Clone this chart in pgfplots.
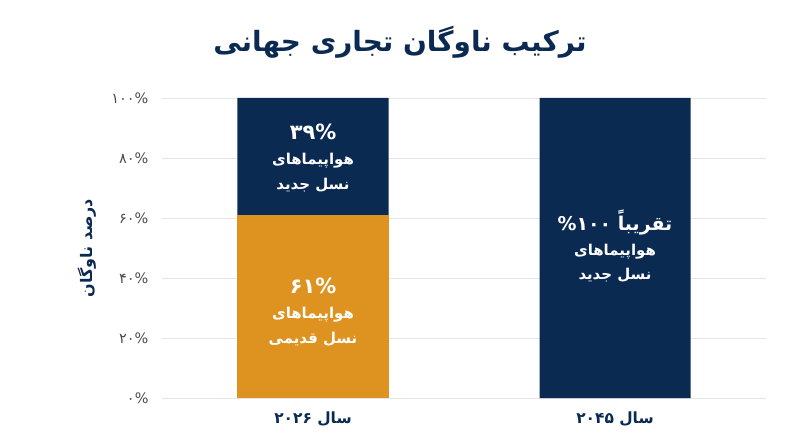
\documentclass[border=0pt]{standalone}
\usepackage{fontspec}
\usepackage{pgfplots}
\pgfplotsset{compat=1.18}
\TeXXeTstate=1
\newfontfamily\arabicfont[Script=Arabic]{DejaVu Sans}
\definecolor{navy}{HTML}{0B2A52}
\definecolor{amber}{HTML}{DE9320}
\definecolor{tickgray}{HTML}{4A4A4A}
\definecolor{gridgray}{HTML}{E6E6E6}

\begin{document}
\begin{tikzpicture}[x=1bp,y=1bp]
\begin{axis}[
  scale only axis,
  width=604bp, height=300bp,
  ybar stacked,
  bar width=0.5,
  xmin=-0.5, xmax=1.5,
  ymin=0, ymax=100,
  xtick={0,1},
  xticklabels={{\beginR سال \beginL۲۰۲۶\endL\endR},{\beginR سال \beginL۲۰۴۵\endL\endR}},
  ytick={0,20,40,60,80,100},
  yticklabels={۰\%,۲۰\%,۴۰\%,۶۰\%,۸۰\%,۱۰۰\%},
  x tick label style={font=\arabicfont\bfseries\fontsize{15.5}{17}\selectfont, text=navy, yshift=-10bp},
  y tick label style={font=\arabicfont\fontsize{14.5}{16}\selectfont, text=tickgray, xshift=-10bp},
  ymajorgrids,
  grid style={gridgray, line width=0.8bp},
  axis line style={draw=none},
  major tick length=0pt,
  ylabel={\beginR درصد ناوگان\endR},
  ylabel style={font=\arabicfont\bfseries\fontsize{16}{18}\selectfont, text=navy, yshift=8bp},
  clip=false,
]
\addplot[fill=amber, draw=none] coordinates {(0,61) (1,0)};
\addplot[fill=navy, draw=none] coordinates {(0,39) (1,100)};

\coordinate (O) at (rel axis cs:0,0);
\coordinate (L1) at (axis cs:0,80);
\coordinate (L2) at (axis cs:0,28.7);
\coordinate (L3) at (axis cs:1,50.5);
\end{axis}

\tikzset{barlabel/.style={align=center, text=white,
  font=\arabicfont\bfseries\fontsize{15}{25}\selectfont}}
\node[barlabel] at (L1) {{\fontsize{21}{26}\selectfont ۳۹\%}\\ \beginR هواپیماهای\endR\\ \beginR نسل جدید\endR};
\node[barlabel] at (L2) {{\fontsize{21}{26}\selectfont ۶۱\%}\\ \beginR هواپیماهای\endR\\ \beginR نسل قدیمی\endR};
\node[barlabel] at (L3) {{\fontsize{19}{26}\selectfont \beginR تقریباً \beginL\%۱۰۰\endL\endR}\\ \beginR هواپیماهای\endR\\ \beginR نسل جدید\endR};

\node[font=\arabicfont\bfseries\fontsize{28}{32}\selectfont, text=navy] at ([xshift=238bp,yshift=356bp]O) {\beginR ترکیب ناوگان تجاری جهانی\endR};
\pgfresetboundingbox
\path ([xshift=-162bp,yshift=-49bp]O) rectangle ([xshift=638bp,yshift=398bp]O);
\end{tikzpicture}
\end{document}
